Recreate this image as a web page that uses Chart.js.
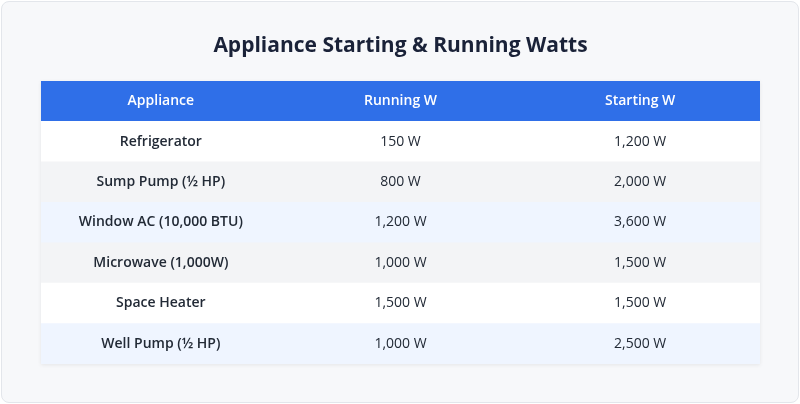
<!DOCTYPE html>
<html><head><meta charset="utf-8">
<script src="https://cdn.jsdelivr.net/npm/chart.js@4"></script>
<style>
html,body{margin:0;padding:0;background:#fff;}
#wrap{position:absolute;left:1px;top:1px;width:796px;height:400px;background:#f7f8fa;border:1px solid #e3e6eb;border-radius:8px;}
canvas{position:absolute;left:0;top:0;}
</style></head><body>
<div id="wrap"><canvas id="c" width="796" height="400"></canvas></div>
<script>
const title = "Appliance Starting & Running Watts";
const columns = ["Appliance", "Running W", "Starting W"];
const appliances = ["Refrigerator", "Sump Pump (½ HP)", "Window AC (10,000 BTU)", "Microwave (1,000W)", "Space Heater", "Well Pump (½ HP)"];
const runningW = [150, 800, 1200, 1000, 1500, 1000];
const startingW = [1200, 2000, 3600, 1500, 1500, 2500];
const rowColors = ["#ffffff", "#f3f4f6", "#eff5ff", "#f3f4f6", "#ffffff", "#eff5ff"];
const headerColor = "#2f6fe8";

const fmt = v => v.toLocaleString("en-US") + " W";
const rowLabels = ["header", ...appliances];
const cells = appliances.map((a, i) => [a, fmt(runningW[i]), fmt(startingW[i])]);

const tablePlugin = {
  id: "tableText",
  beforeDatasetsDraw(chart) {
    const ctx = chart.ctx, a = chart.chartArea;
    ctx.save();
    ctx.shadowColor = "rgba(0,0,0,0.08)"; ctx.shadowBlur = 4; ctx.shadowOffsetY = 1;
    ctx.fillStyle = "#fff";
    ctx.fillRect(a.left, a.top, a.right - a.left, a.bottom - a.top);
    ctx.restore();
  },
  afterDatasetsDraw(chart) {
    const ctx = chart.ctx, xs = chart.scales.x, ys = chart.scales.y, a = chart.chartArea;
    ctx.save();
    ctx.textAlign = "center"; ctx.textBaseline = "middle";
    ctx.fillStyle = "#1a2238";
    ctx.font = "bold 21px 'Open Sans', sans-serif";
    ctx.fillText(title, (a.left + a.right) / 2, 44);
    columns.forEach((c, j) => {
      ctx.fillStyle = "#ffffff";
      ctx.font = "600 14px 'Open Sans', sans-serif";
      ctx.fillText(c, xs.getPixelForValue(j + 0.5), ys.getPixelForValue(0));
    });
    cells.forEach((row, i) => {
      row.forEach((t, j) => {
        ctx.fillStyle = "#222a36";
        ctx.font = (j === 0 ? "600 " : "400 ") + "14px 'Open Sans', sans-serif";
        ctx.fillText(t, xs.getPixelForValue(j + 0.5), ys.getPixelForValue(i + 1));
      });
    });
    ctx.restore();
  }
};

new Chart(document.getElementById("c"), {
  type: "bar",
  data: {
    labels: rowLabels,
    datasets: [{
      data: rowLabels.map(() => [0, columns.length]),
      backgroundColor: [headerColor, ...rowColors],
      barPercentage: 1, categoryPercentage: 1, borderWidth: 0
    }]
  },
  options: {
    indexAxis: "y", responsive: false, animation: false,
    layout: { padding: { left: 39, right: 38, top: 79, bottom: 38 } },
    plugins: { legend: { display: false }, tooltip: { enabled: false } },
    scales: {
      x: { display: false, min: 0, max: columns.length },
      y: { display: false }
    }
  },
  plugins: [tablePlugin]
});
</script></body></html>
